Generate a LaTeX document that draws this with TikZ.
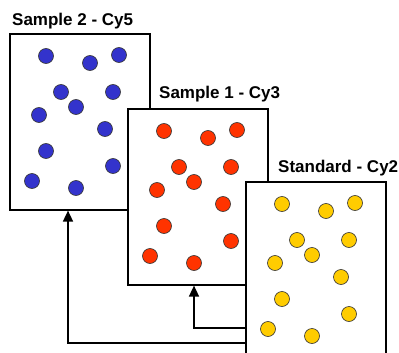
\documentclass[tikz,border=0pt]{standalone}
\usepackage{fontspec}
\setmainfont{Liberation Sans}
\usetikzlibrary{arrows.meta}
\definecolor{cyfive}{HTML}{3333CC}
\definecolor{cythree}{HTML}{FF3300}
\definecolor{cytwo}{HTML}{FFCC00}
\tikzset{
  gel/.style={draw=black, line width=1.6pt, fill=white, rectangle,
    minimum width=140pt, minimum height=176pt, inner sep=0pt, anchor=north west},
  spot/.style={circle, draw=black!80, line width=0.6pt, minimum size=15pt, inner sep=0pt},
  gellabel/.style={anchor=base west, inner sep=0pt, font=\fontsize{17}{20}\selectfont\bfseries},
  feed/.style={line width=1.6pt, -{Triangle[width=10pt,length=11pt]}}
}
% spots on one gel, offsets from its top-left corner
\newcommand{\gelspots}[2]{%
  \foreach \dx/\dy [count=\i] in {37/23,81/30,110/22,52/59,104/59,30/82,67/74,96/96,37/118,104/133,23/148,67/155}
    \node[spot, fill=#2] (#1-s\i) at ([xshift=\dx pt, yshift=-\dy pt]#1.north west) {};%
}
\begin{document}
\begin{tikzpicture}[x=1pt, y=-1pt]
  \useasboundingbox (0,0) rectangle (399,353);
  \begin{scope}
    \clip (0,0) rectangle (399,353);
    % feed lines from the standard to both samples
    \coordinate (fa) at (245,328);
    \coordinate (fb) at (245,343);
    \node[gel] (g5) at (9,33) {};
    \gelspots{g5}{cyfive}
    \node[gellabel] (t5) at (12,25.5) {Sample 2 - Cy5};
    \node[gel] (g3) at (127,108) {};
    \gelspots{g3}{cythree}
    \node[gellabel] (t3) at (159,98.5) {Sample 1 - Cy3};
    \draw[feed] (fa) -| ([xshift=67pt]g3.south west);
    \draw[feed] (fb) -| ([xshift=59pt]g5.south west);
    \node[gel] (g2) at (245,181) {};
    \gelspots{g2}{cytwo}
    \node[gellabel] (t2) at (278,172) {Standard - Cy2};
  \end{scope}
\end{tikzpicture}
\end{document}
